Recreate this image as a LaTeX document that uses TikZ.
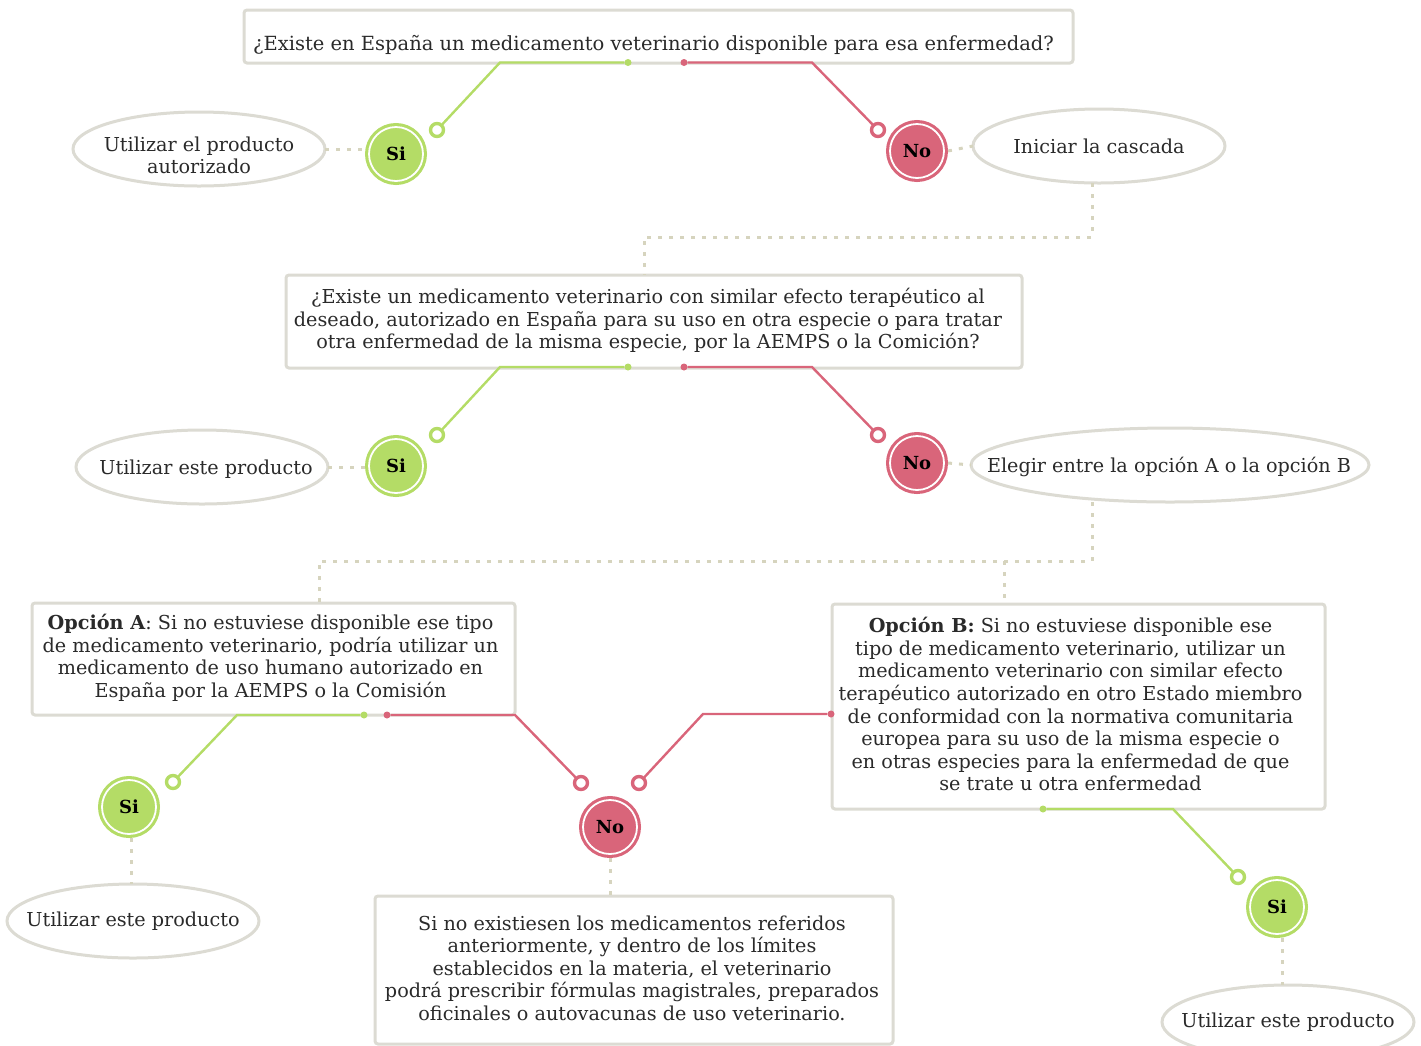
\documentclass[tikz,border=0pt]{standalone}
\usepackage{fontspec}
\setmainfont{DejaVu Serif}
\usetikzlibrary{shapes.geometric,calc}
\definecolor{sigreen}{HTML}{B4DC66}
\definecolor{nored}{HTML}{D9657A}
\definecolor{edgegray}{HTML}{DCDBD3}
\definecolor{dashtan}{HTML}{D6D4BE}
\definecolor{inktext}{HTML}{2A2A2A}
\newcommand{\tx}[3]{\makebox[0pt][c]{\hspace*{\dimexpr2\dimexpr#1\relax\relax}\raisebox{\dimexpr#2-8pt\relax}[0pt][0pt]{\begin{tabular}{@{}c@{}}#3\end{tabular}}}}
\tikzset{
  x=1pt,y=-1pt,
  every node/.style={text=inktext,font=\fontsize{19.2}{22.6}\selectfont},
  qbox/.style={draw=edgegray,line width=3pt,rounded corners=3pt,fill=white,inner sep=0pt,outer sep=0pt},
  oval/.style={ellipse,draw=edgegray,line width=3pt,fill=white,inner sep=0pt,outer sep=0pt,minimum width=252pt,minimum height=74pt},
  badge/.style={circle,inner sep=0pt,outer sep=4pt,minimum size=54pt,fill=#1,draw=white,line width=1.8pt,
     preaction={draw=#1,line width=8pt},font=\fontsize{18}{20}\selectfont\bfseries,text=black},
  ring/.style={circle,draw=#1,fill=white,line width=3.4pt,inner sep=0pt,minimum size=13pt,outer sep=1.5pt},
  pin/.style={circle,fill=#1,inner sep=0pt,minimum size=7pt},
  yeswire/.style={draw=sigreen,line width=2.4pt},
  nowire/.style={draw=nored,line width=2.4pt},
  dashwire/.style={draw=dashtan,line width=3pt,dash pattern=on 4pt off 7pt},
}
\begin{document}
\begin{tikzpicture}
\useasboundingbox (0,0) rectangle (1421,1045);
\clip (0,0) rectangle (1421,1045);
% boxes
\node[qbox,minimum width=829pt,minimum height=53pt,font=\fontsize{19.5}{22.6}\selectfont] (q1) at (658.5,36.5) {\tx{-5pt}{-6.5pt}{¿Existe en España un medicamento veterinario disponible para esa enfermedad?}};
\node[qbox,minimum width=736pt,minimum height=93pt] (q2) at (654,321.5) {\tx{-6pt}{2.5pt}{¿Existe un medicamento veterinario con similar efecto terapéutico al\\deseado, autorizado en España para su uso en otra especie o para tratar\\otra enfermedad de la misma especie, por la AEMPS o la Comición?}};
\node[qbox,minimum width=483pt,minimum height=112pt] (qa) at (273.5,659) {\tx{-3pt}{3pt}{\textbf{Opción A}: Si no estuviese disponible ese tipo\\de medicamento veterinario, podría utilizar un\\medicamento de uso humano autorizado en\\España por la AEMPS o la Comisión}};
\node[qbox,minimum width=493pt,minimum height=205pt] (qb) at (1078.5,706.5) {\tx{-8pt}{2pt}{\textbf{Opción B:} Si no estuviese disponible ese\\tipo de medicamento veterinario, utilizar un\\medicamento veterinario con similar efecto\\terapéutico autorizado en otro Estado miembro\\de conformidad con la normativa comunitaria\\europea para su uso de la misma especie o\\en otras especies para la enfermedad de que\\se trate u otra enfermedad}};
\node[qbox,minimum width=518pt,minimum height=148pt] (qc) at (634,970) {\tx{-2pt}{2pt}{Si no existiesen los medicamentos referidos\\anteriormente, y dentro de los límites\\establecidos en la materia, el veterinario\\podrá prescribir fórmulas magistrales, preparados\\oficinales o autovacunas de uso veterinario.}};
% ovals
\node[oval] (e1) at (199,149) {\tx{0pt}{-6pt}{Utilizar el producto\\autorizado}};
\node[oval] (e2) at (1099,146) {\tx{0pt}{0pt}{Iniciar la cascada}};
\node[oval] (e3) at (202,467) {\tx{4pt}{0pt}{Utilizar este producto}};
\node[oval,minimum width=398pt] (e4) at (1170,465) {\tx{-1pt}{0pt}{Elegir entre la opción A o la opción B}};
\node[oval] (e5) at (133,921) {\tx{0pt}{2pt}{Utilizar este producto}};
\node[oval] (e6) at (1288,1022) {\tx{0pt}{2pt}{Utilizar este producto}};
% badges
\node[badge=sigreen] (s1) at (396,154) {Si};
\node[badge=nored] (n1) at (917,151) {No};
\node[badge=sigreen] (s2) at (396,466) {Si};
\node[badge=nored] (n2) at (917,463) {No};
\node[badge=sigreen] (s3) at (129,807) {Si};
\node[badge=nored] (n3) at (610,827) {No};
\node[badge=sigreen] (s4) at (1277,907) {Si};
% pins, rings, bends
\node[pin=sigreen] (p1y) at (628,62.5) {};
\node[pin=nored] (p1n) at (684,62.5) {};
\node[pin=sigreen] (p2y) at (628,367) {};
\node[pin=nored] (p2n) at (684,367) {};
\node[pin=sigreen] (pay) at (364,715) {};
\node[pin=nored] (pan) at (387,715) {};
\node[pin=nored] (pbn) at (831,714) {};
\node[pin=sigreen] (pby) at (1043,809) {};
\node[ring=sigreen] (r1y) at (437,130) {};
\node[ring=nored] (r1n) at (878,130) {};
\node[ring=sigreen] (r2y) at (437,435) {};
\node[ring=nored] (r2n) at (878,435) {};
\node[ring=sigreen] (ray) at (173,782) {};
\node[ring=nored] (ran) at (581,783) {};
\node[ring=nored] (rbn) at (639,783) {};
\node[ring=sigreen] (rby) at (1238,877) {};
\coordinate (b1y) at (500,62.5);
\coordinate (b1n) at (812,62.5);
\coordinate (b2y) at (500,367);
\coordinate (b2n) at (812,367);
\coordinate (bay) at (237,715);
\coordinate (ban) at (515,715);
\coordinate (bbn) at (703,714);
\coordinate (bby) at (1173,809);
% wires
\draw[yeswire] (p1y) -- (b1y) -- (r1y);
\draw[nowire] (p1n) -- (b1n) -- (r1n);
\draw[yeswire] (p2y) -- (b2y) -- (r2y);
\draw[nowire] (p2n) -- (b2n) -- (r2n);
\draw[yeswire] (pay) -- (bay) -- (ray);
\draw[nowire] (pan) -- (ban) -- (ran);
\draw[nowire] (pbn) -- (bbn) -- (rbn);
\draw[yeswire] (pby) -- (bby) -- (rby);
% dashed links
\coordinate (j1a) at (1092,237);
\coordinate (j1b) at (644,237);
\coordinate (j2a) at (1092,561);
\coordinate (j2b) at (319,561);
\coordinate (j2c) at (1004,561);
\draw[dashwire] (e1.east) -- (e1.east -| s1.west);
\draw[dashwire] (n1.east) -- (e2.west);
\draw[dashwire] (e2.south -| j1a) -- (j1a) -- (j1b) -- (j1b |- q2.north);
\draw[dashwire] (e3.east) -- (e3.east -| s2.west);
\draw[dashwire] (n2.east) -- (e4.west);
\draw[dashwire] (e4.south -| j2a) -- (j2a) -- (j2b) -- (j2b |- qa.north);
\draw[dashwire] (j2c) -- (j2c |- qb.north);
\draw[dashwire] ([xshift=2pt]s3.south) -- ([xshift=2pt]s3.south |- e5.north);
\draw[dashwire] (n3.south) -- (qc.north -| n3.south);
\draw[dashwire] ([xshift=5pt]s4.south) -- ([xshift=5pt]s4.south |- e6.north);
\end{tikzpicture}
\end{document}
